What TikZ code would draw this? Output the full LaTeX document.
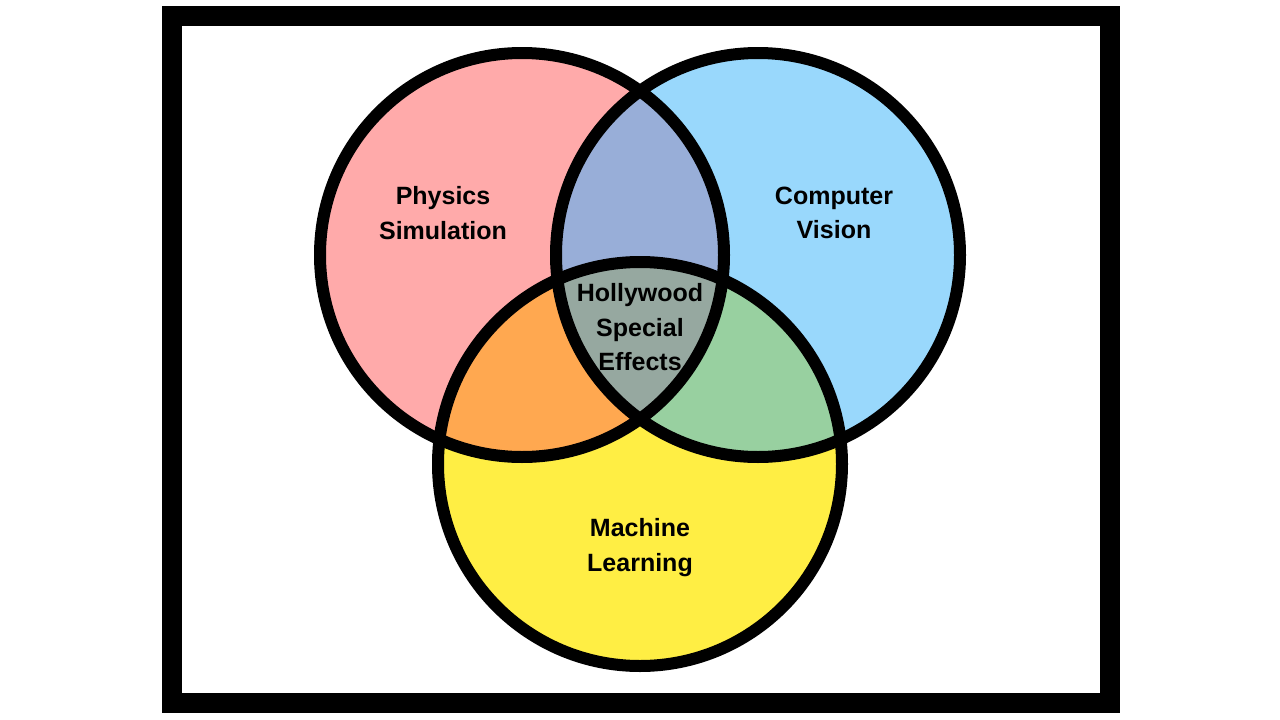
\documentclass[tikz,border=0pt]{standalone}
\usepackage{fontspec}
\setmainfont{Liberation Sans}
\definecolor{cred}{RGB}{255,170,170}
\definecolor{cblue}{RGB}{153,216,252}
\definecolor{cyellow}{RGB}{255,238,68}
\definecolor{crb}{RGB}{152,174,216}
\definecolor{cry}{RGB}{255,168,80}
\definecolor{cby}{RGB}{152,208,160}
\definecolor{crby}{RGB}{150,168,160}
\tikzset{
  lbl/.style={align=center,font=\fontsize{25}{34.5}\selectfont\bfseries,text=black},
  ring/.style={draw=black,line width=12pt}
}
\begin{document}
\begin{tikzpicture}[x=1pt,y=-1pt]
\useasboundingbox (0,0) rectangle (1280,720);
\fill[white] (0,0) rectangle (1280,720);
\draw[line width=20pt] (172,16) rectangle (1110,703);
\coordinate (R) at (522,255);
\coordinate (B) at (758,255);
\coordinate (Y) at (640,464);
\def\rad{202}
\fill[cred] (R) circle (\rad);
\fill[cblue] (B) circle (\rad);
\fill[cyellow] (Y) circle (\rad);
\begin{scope}
  \clip (R) circle (\rad);
  \fill[crb] (B) circle (\rad);
  \fill[cry] (Y) circle (\rad);
  \clip (B) circle (\rad);
  \fill[crby] (Y) circle (\rad);
\end{scope}
\begin{scope}
  \clip (B) circle (\rad);
  \clip (Y) circle (\rad);
  \fill[cby] (Y) circle (\rad);
  \clip (R) circle (\rad);
  \fill[crby] (Y) circle (\rad);
\end{scope}
\draw[ring] (R) circle (\rad);
\draw[ring] (B) circle (\rad);
\draw[ring] (Y) circle (\rad);
\node[lbl] (phys) at (443,213) {Physics\\Simulation};
\node[lbl] (cv) at (834,213) {Computer\\Vision};
\node[lbl] (hse) at (640,327.5) {Hollywood\\Special\\Effects};
\node[lbl] (ml) at (640,547.5) {Machine\\Learning};
\end{tikzpicture}
\end{document}
